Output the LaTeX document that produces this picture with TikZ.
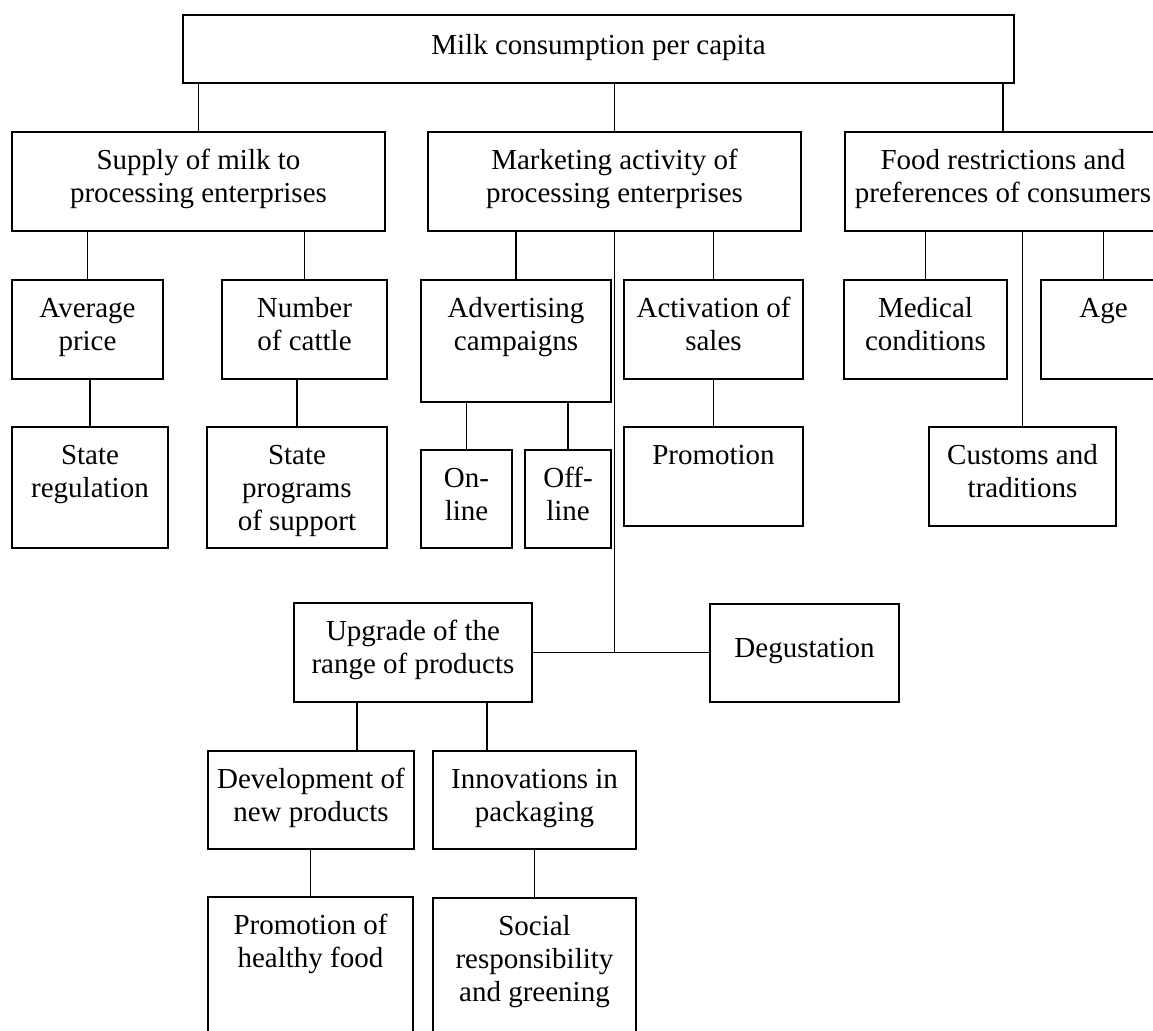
\documentclass[tikz,border=0pt]{standalone}
\usepackage{fontspec}
\setmainfont{Liberation Serif}
\usepackage{tikz}

\begin{document}
\begin{tikzpicture}[
  x=1pt, y=-1pt,
  font=\fontsize{29pt}{33pt}\selectfont,
  kom/.style={draw, line width=1.8pt, inner sep=0pt, outer sep=0pt,
    anchor=north west, align=center, text height=70pt},
  lin/.style={line width=1.8pt},
]
\useasboundingbox (0,0) rectangle (1153,1030);
% Poziom 0
\node[kom, minimum width=831pt, text height=40pt, text depth=28pt] (milk) at (183,15) {Milk consumption per capita};
% Poziom 1
\node[kom, minimum width=373pt, text depth=29pt] (supply) at (12,132) {Supply of milk to\\processing enterprises};
\node[kom, minimum width=373pt, text depth=29pt] (mkt) at (428,132) {Marketing activity of\\processing enterprises};
\node[kom, minimum width=316pt, text depth=29pt] (food) at (845,132) {Food restrictions and\\preferences of consumers};
% Podaz mleka
\node[kom, minimum width=151pt, text depth=29pt] (avg) at (12,280) {Average\\price};
\node[kom, minimum width=165pt, text depth=29pt] (cattle) at (222,280) {Number\\of cattle};
\node[kom, minimum width=156pt, text depth=51pt] (streg) at (12,427) {State\\regulation};
\node[kom, minimum width=180pt, text height=103pt, text depth=18pt] (sprog) at (207,427) {State\\programs\\of support};
% Marketing
\node[kom, minimum width=190pt, text depth=52pt] (adv) at (421,280) {Advertising\\campaigns};
\node[kom, minimum width=91pt, text depth=28pt] (online) at (421,450) {On-\\line};
\node[kom, minimum width=86pt, text depth=28pt] (offline) at (525,450) {Off-\\line};
\node[kom, minimum width=179pt, text depth=29pt] (act) at (624,280) {Activation of\\sales};
\node[kom, minimum width=179pt, text height=37pt, text depth=62pt] (promo) at (624,427) {Promotion};
\node[kom, minimum width=238pt, text depth=29pt] (upg) at (294,603) {Upgrade of the\\range of products};
\node[kom, minimum width=189pt, text height=53pt, text depth=45pt] (deg) at (710,604) {Degustation};
\node[kom, minimum width=206pt, text depth=28pt] (dev) at (208,751) {Development of\\new products};
\node[kom, minimum width=203pt, text depth=28pt] (innov) at (433,751) {Innovations in\\packaging};
\node[kom, minimum width=205pt, text depth=90pt] (healthy) at (208,897) {Promotion of\\healthy food};
\node[kom, minimum width=203pt, text height=103pt, text depth=57pt] (social) at (433,898) {Social\\responsibility\\and greening};
% Ograniczenia zywieniowe
\node[kom, minimum width=163pt, text depth=29pt] (med) at (844,280) {Medical\\conditions};
\node[kom, minimum width=125pt, text height=37pt, text depth=62pt] (age) at (1041,280) {Age};
\node[kom, minimum width=187pt, text depth=29pt] (cust) at (929,427) {Customs and\\traditions};
% Polaczenia
\foreach \a/\b in {milk/supply, milk/mkt, milk/food, supply/avg, supply/cattle,
    avg/streg, cattle/sprog, mkt/adv, mkt/act, adv/online, adv/offline,
    act/promo, dev/healthy, innov/social, food/med, food/age, food/cust}
  \draw[lin] (\a.south -| \b.north) -- (\b.north);
\draw[lin] (mkt.south) -- (mkt.south |- upg.east);
\draw[lin] (upg.east) -- (upg.east -| deg.west);
\draw[lin] ([xshift=63pt]upg.south west) -- ([xshift=63pt]upg.south west |- dev.north);
\draw[lin] ([xshift=193pt]upg.south west) -- ([xshift=193pt]upg.south west |- innov.north);
\end{tikzpicture}
\end{document}
